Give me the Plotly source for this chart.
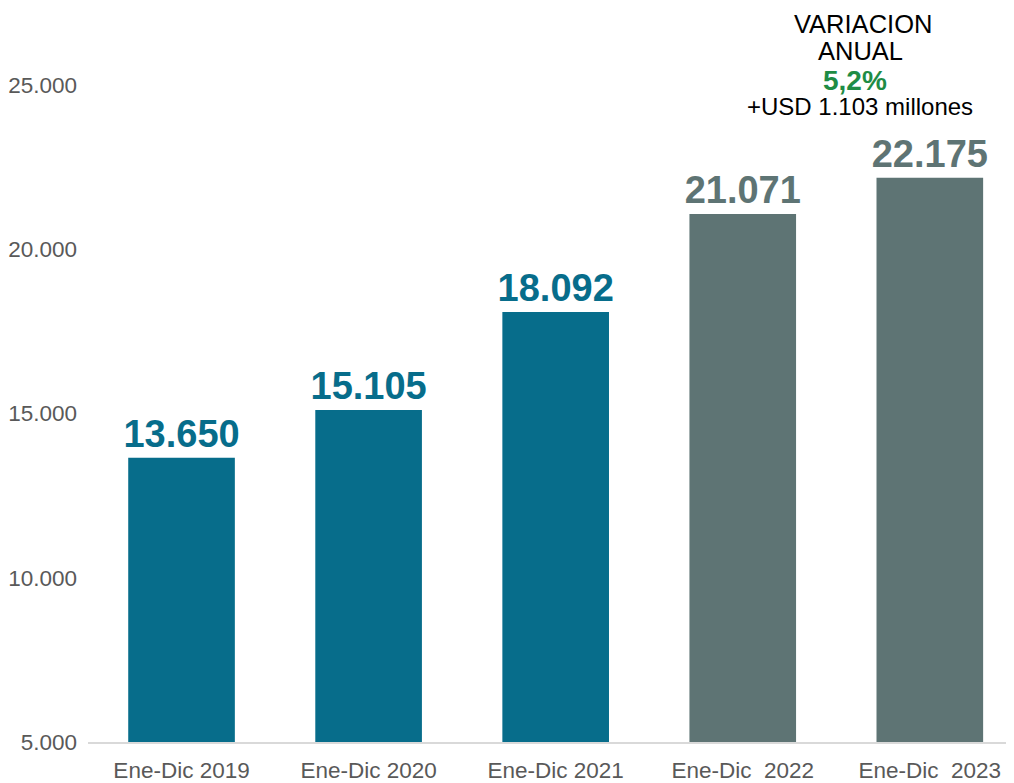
import plotly.graph_objects as go

categories = ["Ene-Dic 2019", "Ene-Dic 2020", "Ene-Dic 2021", "Ene-Dic\u00a0 2022", "Ene-Dic\u00a0 2023"]
values = [13650, 15105, 18092, 21071, 22175]
bar_colors = ["#076D8B", "#076D8B", "#076D8B", "#5E7474", "#5E7474"]
tick_vals = [5000, 10000, 15000, 20000, 25000]
tick_text = ["5.000", "10.000", "15.000", "20.000", "25.000"]
note_lines = ["VARIACION", "ANUAL", "<b>5,2%</b>", "+USD 1.103 millones"]
note_colors = ["#000000", "#000000", "#1E8C45", "#000000"]
note_sizes = [25.5, 25.5, 28, 24]

labels = ["<b>" + f"{v:,}".replace(",", ".") + "</b>" for v in values]

# page has 8px body margin; figure is offset accordingly
OFF = 8
W, H = 1014 - OFF, 783 - OFF
ml, mr, mt, mb = 88 - OFF, 0, 0, 41
plot_h = H - mt - mb
plot_w = W - ml - mr

fig = go.Figure(go.Bar(
    x=list(range(len(categories))),
    y=values,
    marker=dict(color=bar_colors, line=dict(width=0)),
    width=0.57,
    text=labels,
    textposition="outside",
    constraintext="none",
    textfont=dict(family="Liberation Sans, Arial", size=38, color=bar_colors),
    cliponaxis=False,
))

note_page_y = [24, 51, 80, 107]
note_page_x = [863, 860, 855, 860]
annotations = []
for line, col, sz, px, py in zip(note_lines, note_colors, note_sizes, note_page_x, note_page_y):
    annotations.append(dict(
        xref="paper", yref="paper",
        x=(px - OFF - ml) / plot_w, y=1.0 - (py - OFF - mt) / plot_h,
        xanchor="center", yanchor="middle", showarrow=False,
        text=line,
        font=dict(family="Liberation Sans, Arial", size=sz, color=col),
    ))

fig.update_layout(
    width=W, height=H,
    margin=dict(l=ml, r=mr, t=mt, b=mb),
    plot_bgcolor="white", paper_bgcolor="white",
    showlegend=False,
    font=dict(family="Liberation Sans, Arial", color="#595959"),
    xaxis=dict(
        tickmode="array", tickvals=list(range(len(categories))), ticktext=categories,
        range=[-0.5, 4.45], showgrid=False, zeroline=False,
        showline=True, linecolor="#D9D9D9", linewidth=1.5,
        tickfont=dict(size=22.5, color="#595959"), ticks="",
        ticklabelstandoff=7,
    ),
    yaxis=dict(
        range=[5000, 5000 + plot_h / 0.03285], tickvals=tick_vals, ticktext=tick_text,
        showgrid=False, zeroline=False, showline=False,
        tickfont=dict(size=22.5, color="#595959"), ticks="",
        ticklabelstandoff=10,
    ),
    annotations=annotations,
)

fig.write_html("out.html")
